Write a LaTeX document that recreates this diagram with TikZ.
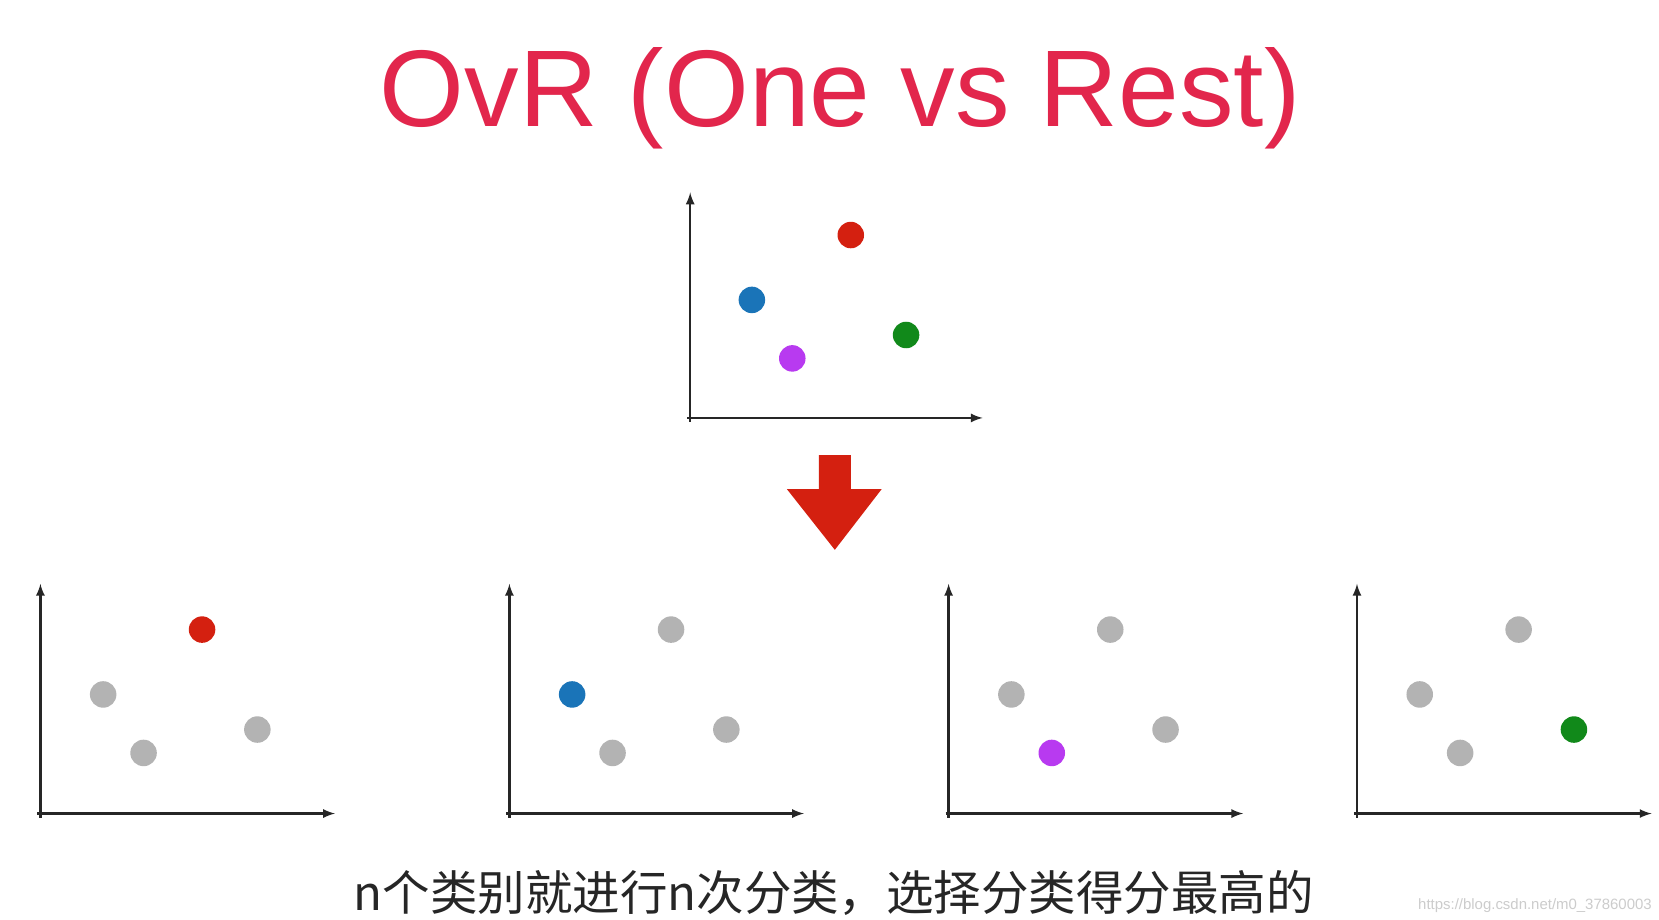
\documentclass[tikz,border=0pt]{standalone}
\usepackage{fontspec}
\setmainfont{Liberation Sans}
\newfontfamily\cjk{Noto Sans CJK SC}
\definecolor{ttl}{HTML}{E2264C}
\definecolor{cr}{HTML}{D42010}
\definecolor{cb}{HTML}{1A74B8}
\definecolor{cp}{HTML}{B83AF0}
\definecolor{cg}{HTML}{11891A}
\definecolor{cgr}{HTML}{B3B3B3}
\begin{document}
\begin{tikzpicture}[x=0.02126cm,y=-0.02126cm,
  ax/.style={line width=1.3pt,-latex,black!85},
  dot/.style={circle,minimum size=25\pgflinewidth,inner sep=0pt,minimum size=0.53cm}]
\fill[white] (0,0) rectangle (1560,865);
\useasboundingbox (0,0) rectangle (1560,865);
\node[text=ttl,font=\fontsize{62}{70}\selectfont] (title) at (790,92) {OvR (One vs Rest)};
% top plot
\coordinate (o) at (649,393);
\coordinate (ytop) at (649,181);
\coordinate (xend) at (924,393);
\draw[ax] ([yshift=-0.08cm]o) -- (ytop);
\draw[ax] ([xshift=-0.06cm]o) -- (xend);
\node[dot,fill=cr] (r0) at (800,221) {};
\node[dot,fill=cb] (b0) at (707,282) {};
\node[dot,fill=cp] (p0) at (745,337) {};
\node[dot,fill=cg] (g0) at (852,315) {};
% arrow
\fill[cr] (770,428) -- (800,428) -- (800,460) -- (829,460) -- (785,517) -- (740,460) -- (770,460) -- cycle;
% bottom plots
\foreach \ox/\ca/\cbb/\cc/\cd [count=\i] in {38/cr/cgr/cgr/cgr, 479/cgr/cb/cgr/cgr, 892/cgr/cgr/cp/cgr, 1276/cgr/cgr/cgr/cg}{
  \coordinate (o\i) at (\ox,765);
  \coordinate (t\i) at (\ox,549);
  \coordinate (e\i) at (\ox+277,765);
  \draw[ax] ([yshift=-0.08cm]o\i) -- (t\i);
  \draw[ax] ([xshift=-0.06cm]o\i) -- (e\i);
  \node[dot,fill=\ca] (r\i) at (\ox+152,592) {};
  \node[dot,fill=\cbb] (b\i) at (\ox+59,653) {};
  \node[dot,fill=\cc] (p\i) at (\ox+97,708) {};
  \node[dot,fill=\cd] (g\i) at (\ox+204,686) {};
}
\node[font=\cjk\fontsize{27}{30}\selectfont,text=black!85] (cap) at (784,840) {n个类别就进行n次分类，选择分类得分最高的};
\node[font=\fontsize{8.5}{10}\selectfont,text=black!20,anchor=east] (wm) at (1559,852) {https://blog.csdn.net/m0\_37860003};
\end{tikzpicture}
\end{document}
